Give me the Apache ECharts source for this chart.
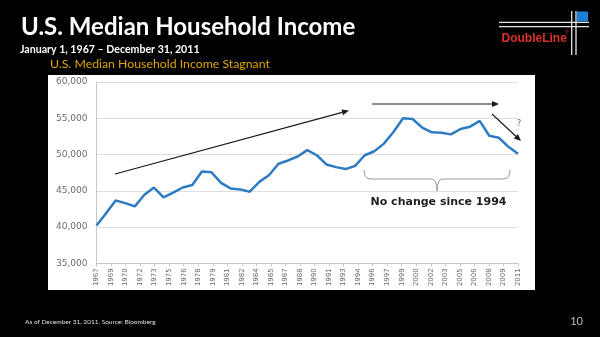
<!DOCTYPE html>
<html>
<head>
<meta charset="utf-8">
<script src="https://cdn.jsdelivr.net/npm/echarts@6/dist/echarts.min.js"></script>
<style>
  html, body { margin: 0; padding: 0; background: #000; }
  #chart { width: 600px; height: 337px; }
</style>
</head>
<body>
<div id="chart"></div>
<script>
// Real median household income, annual
const years = [
  1967, 1968, 1969, 1970, 1971, 1972, 1973, 1974, 1975, 1976,
  1977, 1978, 1979, 1980, 1981, 1982, 1983, 1984, 1985, 1986,
  1987, 1988, 1989, 1990, 1991, 1992, 1993, 1994, 1995, 1996,
  1997, 1998, 1999, 2000, 2001, 2002, 2003, 2004, 2005, 2006,
  2007, 2008, 2009, 2010, 2011
];
const income = [
  40200, 41900, 43650, 43300, 42850, 44450, 45450, 44100, 44750, 45450,
  45800, 47650, 47540, 46100, 45330, 45190, 44870, 46230, 47140, 48730,
  49180, 49730, 50600, 49900, 48630, 48260, 47990, 48440, 49900, 50450,
  51500, 53100, 55000, 54900, 53700, 53060, 53000, 52780, 53520, 53840,
  54630, 52590, 52310, 51060, 50100
];
// Labels printed under the time axis
const tickLabels = [
  '1967', '1969', '1970', '1972', '1973', '1975', '1976', '1978', '1979', '1981',
  '1982', '1984', '1985', '1987', '1988', '1990', '1991', '1993', '1994', '1996',
  '1997', '1999', '2000', '2002', '2003', '2005', '2006', '2008', '2009', '2011'
];
const yMin = 35000, yMax = 60000, yStep = 5000;

const title = 'U.S. Median Household Income';
const dateRange = 'January 1, 1967 \u2013 December 31, 2011';
const chartTitle = 'U.S. Median Household Income Stagnant';
const braceNote = 'No change since 1994';
const footnote = 'As of December 31, 2011. Source: Bloomberg';
const pageNo = '10';

const chart = echarts.init(document.getElementById('chart'), null, { renderer: 'canvas' });

function arrow(x1, y1, x2, y2) {
  const a = Math.atan2(y2 - y1, x2 - x1), L = 7, W = 3;
  const bx = x2 - L * Math.cos(a), by = y2 - L * Math.sin(a);
  return [
    { type: 'line', z: 20, silent: true,
      shape: { x1: x1, y1: y1, x2: bx, y2: by },
      style: { stroke: '#1a1a1a', lineWidth: 1.2 } },
    { type: 'polygon', z: 20, silent: true,
      shape: { points: [[x2, y2],
        [bx + W * Math.sin(a), by - W * Math.cos(a)],
        [bx - W * Math.sin(a), by + W * Math.cos(a)]] },
      style: { fill: '#1a1a1a' } }
  ];
}

// curly brace opening downward: two shoulders, two straight runs and a centre tip
function brace(xl, xr, yTop, yMid, yTip) {
  const xc = (xl + xr) / 2, r = 7;
  const st = { stroke: '#9a9a9a', lineWidth: 1, fill: null };
  const seg = (shape, type) => ({ type: type, z: 20, silent: true, shape: shape, style: st });
  return [
    seg({ x1: xl, y1: yTop, cpx1: xl, cpy1: yMid, x2: xl + r, y2: yMid }, 'bezierCurve'),
    seg({ x1: xl + r, y1: yMid, x2: xc - 6, y2: yMid }, 'line'),
    seg({ x1: xc - 6, y1: yMid, cpx1: xc, cpy1: yMid, x2: xc, y2: yTip }, 'bezierCurve'),
    seg({ x1: xc, y1: yTip, cpx1: xc, cpy1: yMid, x2: xc + 6, y2: yMid }, 'bezierCurve'),
    seg({ x1: xc + 6, y1: yMid, x2: xr - r, y2: yMid }, 'line'),
    seg({ x1: xr - r, y1: yMid, cpx1: xr, cpy1: yMid, x2: xr, y2: yTop }, 'bezierCurve')
  ];
}

const labelFont = 'DejaVu Sans';

const graphic = [
  // white chart panel
  { type: 'rect', z: -1, silent: true,
    shape: { x: 48, y: 75, width: 487, height: 215 },
    style: { fill: '#ffffff' } },
  // headings
  { type: 'text', z: 10, silent: true,
    style: { text: title, x: 21, y: 27, fill: '#ffffff',
      font: 'bold 24px Lato', verticalAlign: 'middle' } },
  { type: 'text', z: 10, silent: true,
    style: { text: dateRange, x: 20, y: 49.5, fill: '#ffffff',
      font: 'bold 10.6px Lato', verticalAlign: 'middle' } },
  { type: 'text', z: 10, silent: true,
    style: { text: chartTitle, x: 50, y: 64.5, fill: '#e0a40c',
      font: '12.3px Lato', verticalAlign: 'middle' } },
  // logo
  { type: 'line', z: 10, silent: true, shape: { x1: 499, y1: 22.3, x2: 589, y2: 22.3 },
    style: { stroke: '#e6e6e6', lineWidth: 1.3 } },
  { type: 'line', z: 10, silent: true, shape: { x1: 499, y1: 26.7, x2: 589, y2: 26.7 },
    style: { stroke: '#e6e6e6', lineWidth: 1.3 } },
  { type: 'line', z: 10, silent: true, shape: { x1: 571.7, y1: 11, x2: 571.7, y2: 55 },
    style: { stroke: '#e6e6e6', lineWidth: 1.3 } },
  { type: 'line', z: 10, silent: true, shape: { x1: 576, y1: 11, x2: 576, y2: 55 },
    style: { stroke: '#e6e6e6', lineWidth: 1.3 } },
  { type: 'rect', z: 11, silent: true, shape: { x: 577, y: 11.5, width: 11, height: 10 },
    style: { fill: '#1b80d6' } },
  { type: 'text', z: 10, silent: true,
    style: { text: 'DoubleLine', x: 501.5, y: 38.5, fill: '#d8322b',
      font: 'bold 12px "Liberation Sans"', verticalAlign: 'middle' } },
  { type: 'text', z: 10, silent: true,
    style: { text: '\u00ae', x: 565, y: 33, fill: '#d8322b',
      font: '5px "Liberation Sans"', verticalAlign: 'middle' } },
  // annotations
  ...arrow(115, 174, 349, 110.5),
  ...arrow(372, 104, 499, 104),
  ...arrow(492, 114, 521, 141),
  { type: 'text', z: 20, silent: true,
    style: { text: '?', x: 519, y: 124, fill: '#666666',
      font: '8px ' + labelFont, align: 'center', verticalAlign: 'middle' } },
  ...brace(364, 510, 170, 179, 191),
  { type: 'text', z: 20, silent: true,
    style: { text: braceNote, x: 438.5, y: 202, fill: '#1e1e1e',
      font: 'bold 11px "DejaVu Sans"', align: 'center', verticalAlign: 'middle' } },
  // footer
  { type: 'text', z: 10, silent: true,
    style: { text: footnote, x: 25, y: 321.5, fill: '#e0e0e0',
      font: '6.5px Lato', verticalAlign: 'middle' } },
  { type: 'text', z: 10, silent: true,
    style: { text: pageNo, x: 583, y: 321, fill: '#bdbdbd',
      font: '11px Lato', align: 'right', verticalAlign: 'middle' } }
];

chart.setOption({
  backgroundColor: '#000000',
  animation: false,
  grid: { left: 96.5, right: 82, top: 82, bottom: 73.7, containLabel: false },
  xAxis: [
    { type: 'value', min: years[0], max: years[years.length - 1], show: false },
    { type: 'category', data: tickLabels, boundaryGap: false, position: 'bottom',
      axisLine: { show: true, lineStyle: { color: '#c8c8c8', width: 1 } },
      axisTick: { show: true, length: 3, alignWithLabel: true, lineStyle: { color: '#c8c8c8' } },
      axisLabel: { interval: 0, rotate: 90, margin: 5, color: '#6b6b6b',
        fontFamily: labelFont, fontSize: 7 },
      splitLine: { show: false } }
  ],
  yAxis: {
    type: 'value', min: yMin, max: yMax, interval: yStep,
    axisLine: { show: true, lineStyle: { color: '#c8c8c8', width: 1 } },
    axisTick: { show: false },
    axisLabel: { color: '#6b6b6b', fontFamily: labelFont, fontSize: 9, margin: 9,
      formatter: v => v.toLocaleString('en-US') },
    splitLine: { show: true, lineStyle: { color: '#dedede', width: 1 } }
  },
  series: [{
    type: 'line',
    xAxisIndex: 0,
    data: years.map((y, i) => [y, income[i]]),
    showSymbol: false,
    smooth: false,
    lineStyle: { color: '#2e7bc4', width: 2.5 },
    z: 5
  }],
  graphic: graphic
});
</script>
</body>
</html>
